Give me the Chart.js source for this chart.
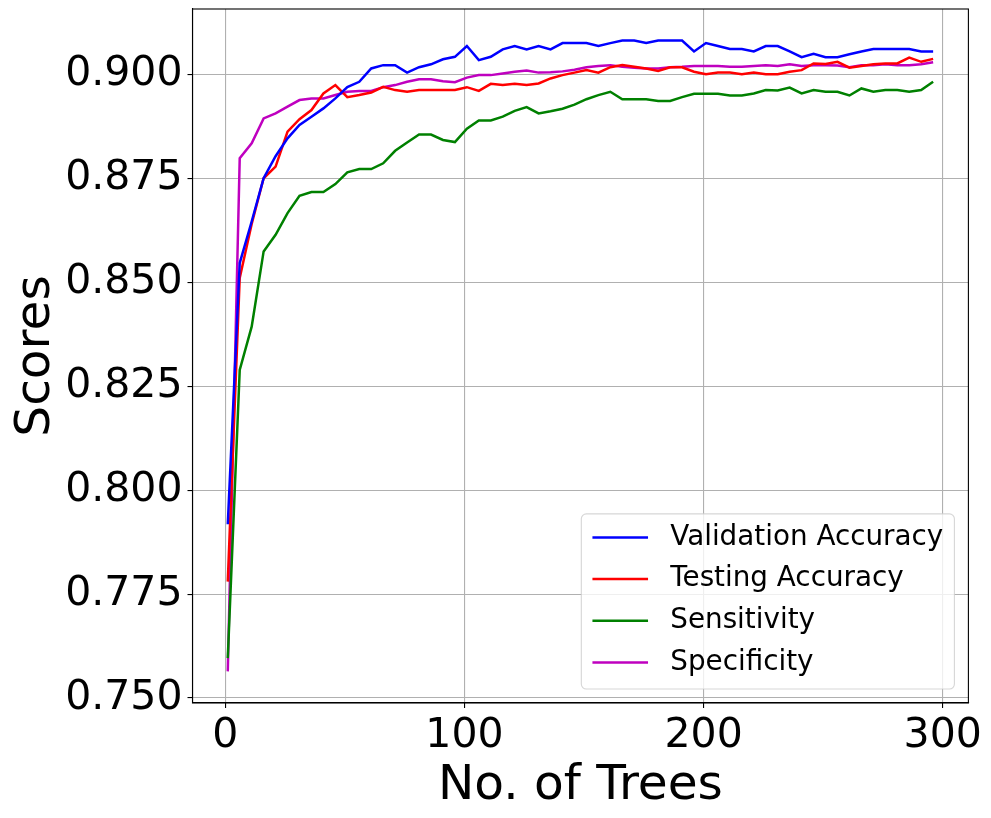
<!DOCTYPE html>
<html>
<head>
<meta charset="utf-8">
<title>Scores vs No. of Trees</title>
<script src="https://cdn.jsdelivr.net/npm/chart.js@4.4.1/dist/chart.umd.min.js"></script>
<style>
  html, body { margin: 0; padding: 0; background: #fff; }
  canvas { display: block; }
</style>
</head>
<body>
<canvas id="scoreChart" width="991" height="818"></canvas>
<script>
// x values: number of trees
const trees = [1, 6, 11, 16, 21, 26, 31, 36, 41, 46, 51, 56, 61, 66, 71, 76, 81, 86, 91, 96,
  101, 106, 111, 116, 121, 126, 131, 136, 141, 146, 151, 156, 161, 166, 171, 176, 181, 186, 191, 196,
  201, 206, 211, 216, 221, 226, 231, 236, 241, 246, 251, 256, 261, 266, 271, 276, 281, 286, 291, 296];

// series values
const validationAcc = [0.7918, 0.8546, 0.8646, 0.8750, 0.8803, 0.8846, 0.8878, 0.8898, 0.8918, 0.8942,
  0.8969, 0.8982, 0.9014, 0.9022, 0.9022, 0.9004, 0.9017, 0.9024, 0.9036, 0.9042,
  0.9068, 0.9034, 0.9042, 0.9060, 0.9068, 0.9060, 0.9068, 0.9060, 0.9075, 0.9075,
  0.9075, 0.9068, 0.9075, 0.9081, 0.9081, 0.9075, 0.9081, 0.9081, 0.9081, 0.9055,
  0.9075, 0.9068, 0.9061, 0.9061, 0.9055, 0.9068, 0.9068, 0.9055, 0.9041, 0.9049,
  0.9041, 0.9041, 0.9048, 0.9055, 0.9061, 0.9061, 0.9061, 0.9061, 0.9055, 0.9055];

const testingAcc = [0.7780, 0.8510, 0.8640, 0.8750, 0.8778, 0.8862, 0.8892, 0.8914, 0.8954, 0.8974,
  0.8945, 0.8950, 0.8956, 0.8970, 0.8962, 0.8958, 0.8962, 0.8962, 0.8962, 0.8962,
  0.8969, 0.8960, 0.8977, 0.8974, 0.8977, 0.8974, 0.8978, 0.8990, 0.8998, 0.9004,
  0.9010, 0.9004, 0.9017, 0.9022, 0.9018, 0.9014, 0.9008, 0.9017, 0.9017, 0.9006,
  0.9000, 0.9004, 0.9004, 0.9000, 0.9004, 0.9000, 0.9000, 0.9006, 0.9010, 0.9026,
  0.9025, 0.9030, 0.9016, 0.9020, 0.9024, 0.9026, 0.9026, 0.9040, 0.9030, 0.9037];

const sensitivity = [0.7596, 0.8289, 0.8393, 0.8574, 0.8614, 0.8666, 0.8708, 0.8717, 0.8717, 0.8736,
  0.8764, 0.8772, 0.8772, 0.8786, 0.8816, 0.8836, 0.8855, 0.8855, 0.8842, 0.8837,
  0.8869, 0.8889, 0.8889, 0.8898, 0.8912, 0.8921, 0.8906, 0.8911, 0.8917, 0.8927,
  0.8940, 0.8950, 0.8958, 0.8940, 0.8940, 0.8940, 0.8936, 0.8936, 0.8945, 0.8953,
  0.8953, 0.8953, 0.8949, 0.8949, 0.8954, 0.8962, 0.8961, 0.8968, 0.8954, 0.8962,
  0.8958, 0.8958, 0.8949, 0.8966, 0.8958, 0.8962, 0.8962, 0.8958, 0.8962, 0.8982];

const specificity = [0.7564, 0.8798, 0.8834, 0.8894, 0.8906, 0.8922, 0.8938, 0.8942, 0.8942, 0.8950,
  0.8958, 0.8960, 0.8960, 0.8969, 0.8974, 0.8982, 0.8988, 0.8988, 0.8983, 0.8981,
  0.8992, 0.8998, 0.8998, 0.9002, 0.9006, 0.9009, 0.9004, 0.9005, 0.9007, 0.9011,
  0.9017, 0.9020, 0.9022, 0.9018, 0.9016, 0.9014, 0.9014, 0.9017, 0.9018, 0.9020,
  0.9020, 0.9020, 0.9018, 0.9018, 0.9020, 0.9022, 0.9020, 0.9024, 0.9020, 0.9022,
  0.9022, 0.9021, 0.9017, 0.9022, 0.9022, 0.9024, 0.9022, 0.9022, 0.9024, 0.9029];

const seriesNames = ['Validation Accuracy', 'Testing Accuracy', 'Sensitivity', 'Specificity'];

// tick labels
const xTicks = [0, 100, 200, 300];
const yTicks = [0.750, 0.775, 0.800, 0.825, 0.850, 0.875, 0.900];

const FONT = "'DejaVu Sans', 'Liberation Sans', sans-serif";
const LINE_W = 2.5;
Chart.defaults.font.family = FONT;
Chart.defaults.color = '#000';

function toPoints(values) {
  return trees.map((t, i) => ({ x: t, y: values[i] }));
}

// top and right spines
const frame = {
  id: 'frame',
  afterDatasetsDraw(chart) {
    const { ctx, chartArea: a } = chart;
    ctx.save();
    ctx.strokeStyle = '#000';
    ctx.lineWidth = 1.1;
    ctx.strokeRect(a.left, a.top, a.right - a.left, a.bottom - a.top);
    ctx.restore();
  }
};

// matplotlib style legend in the lower right corner
const legendBox = {
  id: 'legendBox',
  afterDraw(chart) {
    const { ctx, chartArea: a } = chart;
    const fs = 27.8;
    const pad = 0.4 * fs, handle = 2 * fs, gap = 0.8 * fs, row = 1.5 * fs;
    const sets = chart.data.datasets;
    ctx.save();
    ctx.font = fs + 'px ' + FONT;
    let textW = 0;
    sets.forEach(d => { textW = Math.max(textW, ctx.measureText(d.label).width); });
    const w = pad * 2 + handle + gap + textW;
    const h = pad * 2 + fs * sets.length + (row - fs) * (sets.length - 1);
    const x0 = a.right - 14 - w, y0 = a.bottom - 14 - h;

    ctx.beginPath();
    ctx.roundRect(x0, y0, w, h, 5);
    ctx.fillStyle = 'rgba(255,255,255,0.8)';
    ctx.fill();
    ctx.strokeStyle = 'rgba(204,204,204,0.8)';
    ctx.lineWidth = 1.1;
    ctx.stroke();

    ctx.textBaseline = 'middle';
    ctx.textAlign = 'left';
    sets.forEach((d, i) => {
      const cy = y0 + pad + fs / 2 + i * row - 1.5;
      ctx.beginPath();
      ctx.moveTo(x0 + pad, cy);
      ctx.lineTo(x0 + pad + handle, cy);
      ctx.strokeStyle = d.borderColor;
      ctx.lineWidth = LINE_W;
      ctx.stroke();
      ctx.fillStyle = '#000';
      ctx.fillText(d.label, x0 + pad + handle + gap, cy);
    });
    ctx.restore();
  }
};

const ctx = document.getElementById('scoreChart').getContext('2d');
const scoreChart = new Chart(ctx, {
  type: 'line',
  data: {
    datasets: [
      { label: seriesNames[0], data: toPoints(validationAcc), borderColor: '#0000ff' },
      { label: seriesNames[1], data: toPoints(testingAcc), borderColor: '#ff0000' },
      { label: seriesNames[2], data: toPoints(sensitivity), borderColor: '#008000' },
      { label: seriesNames[3], data: toPoints(specificity), borderColor: '#bf00bf' }
    ]
  },
  options: {
    responsive: false,
    animation: false,
    layout: { padding: { top: 9, right: 22.6, bottom: 0, left: 0 } },
    elements: {
      line: { borderWidth: LINE_W, tension: 0, fill: false },
      point: { radius: 0, hoverRadius: 0 }
    },
    plugins: {
      legend: { display: false },
      tooltip: { enabled: false }
    },
    scales: {
      x: {
        type: 'linear',
        min: -13.75,
        max: 310.75,
        afterBuildTicks: (scale) => { scale.ticks = xTicks.map(v => ({ value: v })); },
        afterFit: (scale) => {
          scale.height = 115;
          scale.paddingLeft = 0;
          scale.paddingRight = 0;
        },
        ticks: {
          font: { size: 41 },
          padding: 4,
          maxRotation: 0,
          callback: (v) => String(v)
        },
        grid: { color: '#b0b0b0', lineWidth: 1.1, tickColor: '#000', tickLength: 5 },
        border: { color: '#000', width: 1.1 },
        title: {
          display: true,
          text: 'No. of Trees',
          font: { size: 48.6 },
          padding: { top: 0, bottom: 2 }
        }
      },
      y: {
        min: 0.7488,
        max: 0.9157,
        afterBuildTicks: (scale) => { scale.ticks = yTicks.map(v => ({ value: v })); },
        afterFit: (scale) => {
          scale.width = 192.5;
          scale.paddingTop = 0;
          scale.paddingBottom = 0;
        },
        ticks: {
          font: { size: 41 },
          padding: 5,
          callback: (v) => Number(v).toFixed(3)
        },
        grid: { color: '#b0b0b0', lineWidth: 1.1, tickColor: '#000', tickLength: 5 },
        border: { color: '#000', width: 1.1 },
        title: {
          display: true,
          text: 'Scores',
          font: { size: 48.6 },
          padding: { top: 7, bottom: 0 }
        }
      }
    }
  },
  plugins: [frame, legendBox]
});
</script>
</body>
</html>
